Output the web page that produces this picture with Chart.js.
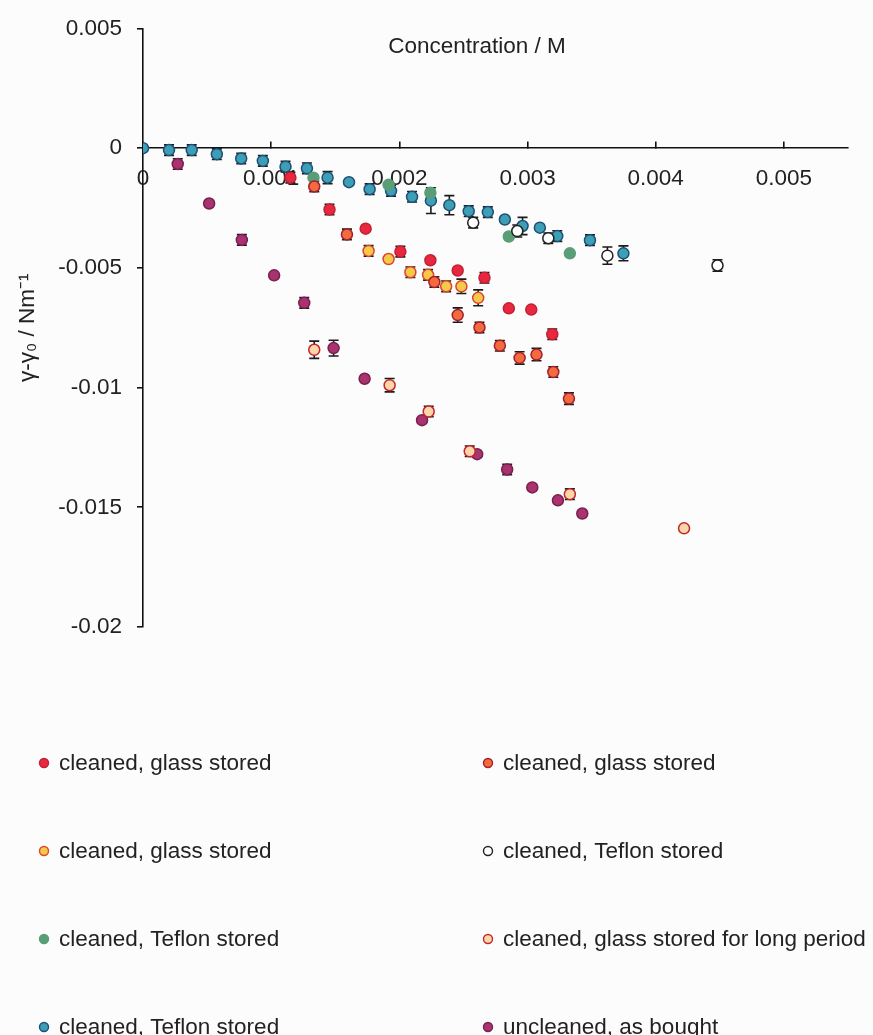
<!DOCTYPE html>
<html lang="en">
<head>
    <meta charset="UTF-8">
    <title>Surface tension change vs concentration</title>
    <script src="https://cdn.jsdelivr.net/npm/chart.js"></script>
    <style>
        body { margin: 0; background: #fcfcfc; }
        #wrap { width: 873px; height: 1035px; }
    </style>
</head>
<body>
    <div id="wrap"><canvas id="tensionChart" width="873" height="1035"></canvas></div>

    <script>
        // axis ticks
        const xTicks = [0, 0.001, 0.002, 0.003, 0.004, 0.005];
        const xTickLabels = ["0", "0.001", "0.002", "0.003", "0.004", "0.005"];
        const yTicks = [0.005, 0, -0.005, -0.01, -0.015, -0.02];
        const yTickLabels = ["0.005", "0", "-0.005", "-0.01", "-0.015", "-0.02"];

        const seriesNames = [
            "cleaned, glass stored",
            "cleaned, glass stored",
            "cleaned, glass stored",
            "cleaned, Teflon stored",
            "cleaned, Teflon stored",
            "cleaned, glass stored for long period",
            "cleaned, Teflon stored",
            "uncleaned, as bought"
        ];

        // cleaned, glass stored (red)
        const redX = [0.00115, 0.001455, 0.001737, 0.002008, 0.002242, 0.002455, 0.002664, 0.002854, 0.003029, 0.003193];
        const redY = [-0.00123, -0.00256, -0.00336, -0.00432, -0.00468, -0.00511, -0.00541, -0.00669, -0.00674, -0.00777];
        const redErr = [0.00022, 0.00022, 0, 0.00022, 0, 0, 0.00022, 0, 0, 0.00022];

        // cleaned, glass stored (orange)
        const orangeX = [0.001336, 0.001591, 0.002273, 0.002455, 0.002625, 0.002784, 0.002938, 0.00307, 0.003201, 0.003323];
        const orangeY = [-0.0016, -0.0036, -0.00559, -0.00697, -0.00749, -0.00825, -0.00876, -0.00862, -0.00935, -0.01046];
        const orangeErr = [0.00022, 0.00022, 0.00022, 0.0003, 0.00022, 0.00022, 0.00026, 0.00026, 0.00022, 0.00024];

        // cleaned, glass stored (yellow)
        const yellowX = [0.00176, 0.001916, 0.002086, 0.002224, 0.002365, 0.002484, 0.002615];
        const yellowY = [-0.00429, -0.00463, -0.00518, -0.00529, -0.00577, -0.00577, -0.00625];
        const yellowErr = [0.00022, 0, 0.00022, 0.00022, 0.00022, 0.0003, 0.00033];

        // cleaned, Teflon stored (open)
        const openX = [0.002576, 0.00292, 0.003162, 0.003623, 0.004482];
        const openY = [-0.00311, -0.00346, -0.00376, -0.00449, -0.0049];
        const openErr = [0.00022, 0.00025, 0.00022, 0.00036, 0.00024];

        // cleaned, Teflon stored (green)
        const greenX = [0.00133, 0.001916, 0.002242, 0.002854, 0.00333];
        const greenY = [-0.00123, -0.00153, -0.00186, -0.00369, -0.00439];
        const greenErr = [0, 0, 0, 0, 0];

        // cleaned, glass stored for long period (peach)
        const peachX = [0.001336, 0.001924, 0.002229, 0.002549, 0.00333, 0.004221];
        const peachY = [-0.00842, -0.0099, -0.011, -0.01266, -0.01445, -0.01588];
        const peachErr = [0.00036, 0.00028, 0.00022, 0.00022, 0.00022, 0];

        // cleaned, Teflon stored (teal)
        const tealX = [0, 0.000203, 0.00038, 0.000576, 0.000766, 0.000935, 0.001112, 0.001279, 0.00144, 0.001607, 0.001768, 0.001935,
            0.002099, 0.002246, 0.00239, 0.002541, 0.00269, 0.002823, 0.002961, 0.003096, 0.003232, 0.003487, 0.003748];
        const tealY = [0, -0.00008, -0.00008, -0.00025, -0.00043, -0.00053, -0.00077, -0.00084, -0.00123, -0.00142, -0.00171, -0.00178,
            -0.00203, -0.00219, -0.00238, -0.00263, -0.00267, -0.00298, -0.00325, -0.00332, -0.00367, -0.00384, -0.00439];
        const tealErr = [0, 0.00022, 0.00022, 0.00022, 0.00022, 0.00022, 0.00022, 0.00022, 0.00025, 0, 0.00022, 0.00022,
            0.00022, 0.00054, 0.0004, 0.00022, 0.00022, 0, 0.00036, 0, 0.00022, 0.00022, 0.00031];

        // uncleaned, as bought (purple)
        const purpleX = [0.000271, 0.000516, 0.000771, 0.001023, 0.001258, 0.001487, 0.001729, 0.002177, 0.002607, 0.002841, 0.003037, 0.003237, 0.003427];
        const purpleY = [-0.00066, -0.00231, -0.00383, -0.00531, -0.00646, -0.00835, -0.00963, -0.01136, -0.01278, -0.01342, -0.01417, -0.01471, -0.01526];
        const purpleErr = [0.00022, 0, 0.00022, 0, 0.00022, 0.00033, 0, 0, 0, 0.00022, 0, 0, 0];

        const allX = [redX, orangeX, yellowX, openX, greenX, peachX, tealX, purpleX];
        const allY = [redY, orangeY, yellowY, openY, greenY, peachY, tealY, purpleY];
        const allErr = [redErr, orangeErr, yellowErr, openErr, greenErr, peachErr, tealErr, purpleErr];

        const fills = ["#e8283f", "#f26a3d", "#f7c94a", "#ffffff", "#5a9e78", "#fcd6a8", "#3d9fb6", "#a8336f"];
        const borders = ["#c41f35", "#a3202b", "#d9462c", "#222222", "#5a9e78", "#c0262e", "#1f4f78", "#7a1f4e"];

        const FONT = "'Liberation Sans', Arial, sans-serif";
        const FS = 22.5;

        const datasets = seriesNames.map((name, i) => ({
            label: name,
            data: allX[i].map((x, j) => ({ x: x, y: allY[i][j] })),
            err: allErr[i],
            backgroundColor: fills[i],
            borderColor: borders[i],
            borderWidth: 1.5,
            pointRadius: 5.5,
            pointHoverRadius: 5.5
        }));

        const errorBars = {
            id: "errorBars",
            beforeDatasetsDraw(chart) {
                let ctx = chart.ctx;
                let xs = chart.scales.x, ys = chart.scales.y;
                ctx.save();
                ctx.strokeStyle = "#1a1a1a";
                ctx.lineWidth = 1.6;
                chart.data.datasets.forEach(ds => {
                    ds.data.forEach((p, j) => {
                        let e = ds.err[j];
                        if (!e) return;
                        let px = xs.getPixelForValue(p.x);
                        let top = ys.getPixelForValue(p.y + e);
                        let bot = ys.getPixelForValue(p.y - e);
                        ctx.beginPath();
                        ctx.moveTo(px, top); ctx.lineTo(px, bot);
                        ctx.moveTo(px - 5, top); ctx.lineTo(px + 5, top);
                        ctx.moveTo(px - 5, bot); ctx.lineTo(px + 5, bot);
                        ctx.stroke();
                    });
                });
                ctx.restore();
            }
        };

        const extras = {
            id: "extras",
            afterDraw(chart) {
                let ctx = chart.ctx;
                ctx.save();
                ctx.fillStyle = "#222";
                ctx.font = FS + "px " + FONT;
                ctx.textAlign = "center";
                ctx.textBaseline = "middle";
                ctx.fillText("Concentration / M", 477, 47);

                // legend, 2 columns x 4 rows
                ctx.textAlign = "left";
                chart.data.datasets.forEach((ds, i) => {
                    let col = i % 2, row = Math.floor(i / 2);
                    let cx = col === 0 ? 44 : 488;
                    let cy = 763 + row * 88;
                    ctx.beginPath();
                    ctx.arc(cx, cy, 4.5, 0, Math.PI * 2);
                    ctx.fillStyle = ds.backgroundColor;
                    ctx.fill();
                    ctx.lineWidth = 1.4;
                    ctx.strokeStyle = ds.borderColor;
                    ctx.stroke();
                    ctx.fillStyle = "#222";
                    ctx.fillText(ds.label, cx + 15, cy + 1);
                });
                ctx.restore();
            }
        };

        new Chart(document.getElementById("tensionChart"), {
            type: "scatter",
            data: { datasets: datasets },
            options: {
                responsive: false,
                animation: false,
                events: [],
                layout: { padding: { top: 22, right: 25, bottom: 408, left: 0 } },
                plugins: { legend: { display: false }, tooltip: { enabled: false } },
                scales: {
                    x: {
                        type: "linear",
                        position: { y: 0 },
                        min: 0,
                        max: 0.0055,
                        afterBuildTicks: s => { s.ticks = xTicks.map(v => ({ value: v })); },
                        border: { display: true, color: "#111", width: 1.6 },
                        grid: { display: true, drawOnChartArea: false, drawTicks: true, tickLength: -7, color: "#111", lineWidth: 1.6 },
                        ticks: {
                            padding: 24,
                            color: "#222",
                            font: { family: FONT, size: FS },
                            maxRotation: 0,
                            callback: (v, i) => xTickLabels[i]
                        }
                    },
                    y: {
                        type: "linear",
                        position: "left",
                        min: -0.02,
                        max: 0.005,
                        afterBuildTicks: s => { s.ticks = yTicks.map(v => ({ value: v })); },
                        afterFit: s => { s.width = 143; },
                        border: { display: true, color: "#111", width: 1.6 },
                        grid: { display: true, drawOnChartArea: false, drawTicks: true, tickLength: 6, color: "#111", lineWidth: 1.6 },
                        ticks: {
                            padding: 15,
                            color: "#222",
                            font: { family: FONT, size: FS },
                            callback: (v, i) => yTickLabels[i]
                        },
                        title: {
                            display: true,
                            text: "γ-γ\u2080 / Nm\u207B\u00B9",
                            color: "#222",
                            font: { family: FONT, size: FS },
                            padding: { top: 14, bottom: 0 }
                        }
                    }
                }
            },
            plugins: [errorBars, extras]
        });
    </script>
</body>
</html>
